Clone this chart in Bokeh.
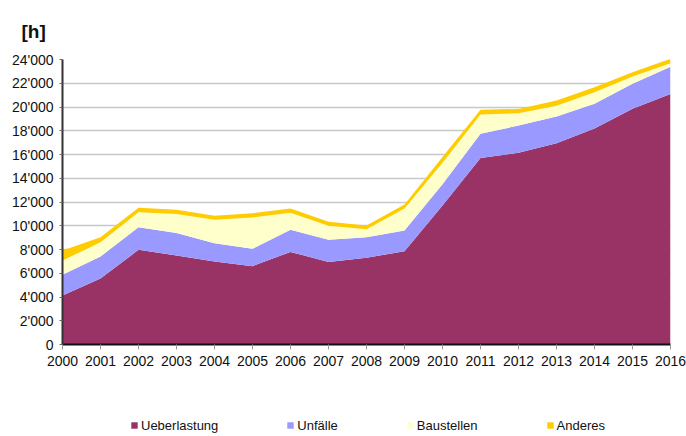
from bokeh.plotting import figure
from bokeh.models import ColumnDataSource, Range1d, FixedTicker, Legend, LegendItem
from bokeh.layouts import column
from bokeh.embed import file_html
from bokeh.resources import INLINE

years = list(range(2000, 2017))
ueberlastung = [4130, 5550, 7970, 7500, 6990, 6600, 7800, 6950, 7300, 7860, 11700, 15700, 16150, 16950, 18200, 19850, 21100]
unfaelle = [1740, 1860, 1910, 1880, 1540, 1460, 1860, 1870, 1740, 1740, 1800, 2040, 2290, 2250, 2070, 2100, 2300]
baustellen = [1200, 1210, 1260, 1620, 1970, 2640, 1440, 1180, 660, 1850, 1800, 1630, 1040, 900, 980, 620, 290]
anderes = [850, 420, 370, 340, 340, 360, 350, 330, 320, 340, 500, 390, 360, 450, 420, 360, 370]

series_names = ["Ueberlastung", "Unfälle", "Baustellen", "Anderes"]
series_keys = ["ueberlastung", "unfaelle", "baustellen", "anderes"]
colors = ["#993366", "#9999FF", "#FFFFCC", "#FFCC00"]

y_ticks = list(range(0, 24001, 2000))
y_tick_labels = ["0", "2'000", "4'000", "6'000", "8'000", "10'000", "12'000",
                 "14'000", "16'000", "18'000", "20'000", "22'000", "24'000"]
unit_label = "[h]"

FONT = "Liberation Sans"

source = ColumnDataSource(dict(year=years, ueberlastung=ueberlastung, unfaelle=unfaelle,
                               baustellen=baustellen, anderes=anderes))

p = figure(width=686, height=400, output_backend="svg", toolbar_location=None,
           x_range=Range1d(2000, 2016), y_range=Range1d(0, 24000),
           min_border_left=62, min_border_right=16, min_border_top=59, min_border_bottom=56,
           title=unit_label)
p.outline_line_color = None

p.title.text_font = FONT
p.title.text_font_size = "19px"
p.title.text_font_style = "bold"
p.title.text_color = "#111111"
p.title.align = "left"
p.title.offset = -41
p.title.standoff = 36

p.varea_stack(stackers=series_keys, x="year", color=colors, source=source)

# axes
p.xaxis.ticker = FixedTicker(ticks=years)
p.yaxis.ticker = FixedTicker(ticks=y_ticks)
p.yaxis.major_label_overrides = {t: l for t, l in zip(y_ticks, y_tick_labels)}
for ax in (p.xaxis[0], p.yaxis[0]):
    ax.major_label_text_font = FONT
    ax.major_label_text_font_size = "14px"
    ax.major_label_text_color = "#111111"
    ax.minor_tick_line_color = None
    ax.major_tick_in = 0

p.xaxis.axis_line_color = "#111111"
p.xaxis.axis_line_width = 2
p.xaxis.major_tick_out = 5
p.xaxis.major_tick_line_color = "#999999"
p.xaxis.major_label_standoff = 6

p.yaxis.axis_line_color = "#333333"
p.yaxis.axis_line_width = 2
p.yaxis.major_tick_out = 3
p.yaxis.major_tick_line_color = "#666666"
p.yaxis.major_label_standoff = 6

p.xgrid.grid_line_color = None
p.ygrid.grid_line_color = "#c8c8c8"
p.ygrid.grid_line_width = 1.5

# legend strip below the chart (its frame is aligned with the chart's frame)
leg = figure(width=686, height=36, output_backend="svg", toolbar_location=None,
             x_range=Range1d(0, 1), y_range=Range1d(0, 1),
             x_axis_location=None, y_axis_location=None,
             min_border_left=0, min_border_right=0, min_border_top=0, min_border_bottom=0)
leg.outline_line_color = None
leg.xgrid.grid_line_color = None
leg.ygrid.grid_line_color = None
items = []
for name, c in zip(series_names, colors):
    # zero-height, out-of-range area: only its legend swatch shows
    r = leg.varea(x="year", y1=0, y2=0, color=c, source=source)
    items.append(LegendItem(label=name, renderers=[r]))
lg = Legend(items=items, orientation="horizontal", location=(68, 3),
            padding=0, margin=0, spacing=68, glyph_width=8, glyph_height=8,
            label_standoff=3, label_height=16, label_text_font=FONT,
            label_text_font_size="13px", label_text_color="#111111",
            border_line_color=None, background_fill_alpha=0)
leg.add_layout(lg)

open("out.html", "w").write(file_html(column(p, leg, spacing=0), INLINE))
